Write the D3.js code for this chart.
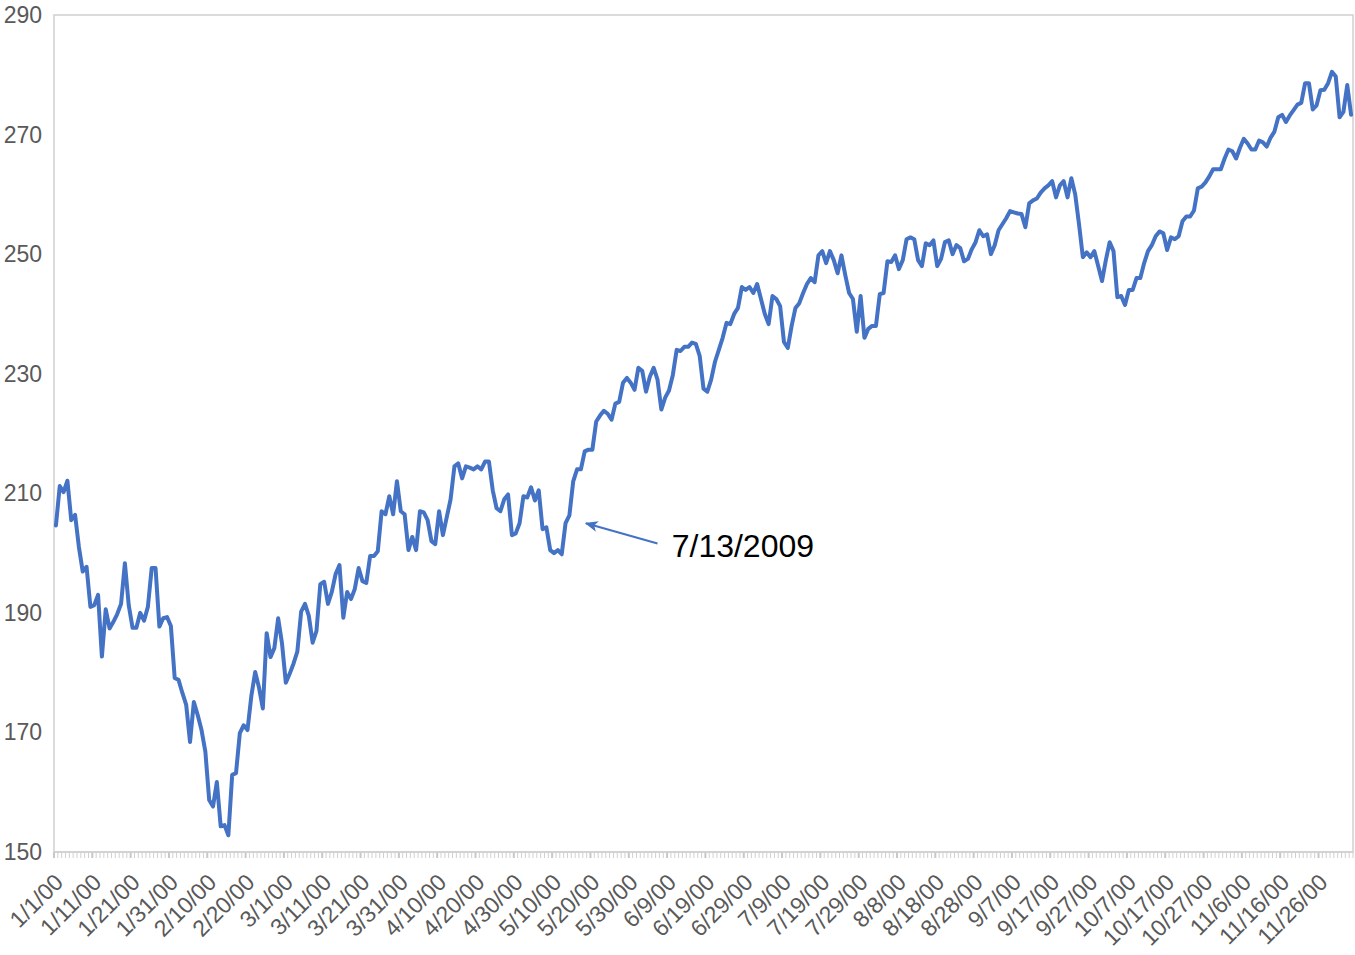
<!DOCTYPE html>
<html><head><meta charset="utf-8">
<script src="https://cdn.jsdelivr.net/npm/d3@7"></script>
<style>body{margin:0;background:#fff}svg{display:block}text{font-family:"Liberation Sans",Arial,Helvetica,sans-serif}</style>
</head><body>
<svg id="c" width="1355" height="955"></svg>
<script>
const values = [
204.6,211.2,210.2,212.1,205.5,206.4,201,196.9,197.7,191,191.3,193,182.7,190.6,187.4,188.5,189.8,191.5,198.3,191.3,187.5,187.5,190,188.7,191,197.5,197.5,187.7,189.1,189.3,187.8,179.1,178.8,176.6,174.6,168.4,175.1,172.9,170.4,166.8,158.7,157.6,161.7,154.3,154.5,152.8,
162.9,163.2,169.9,171.2,170.4,176.1,180.1,177.5,174,186.6,182.6,184.1,189.1,184.9,178.3,179.8,181.5,183.5,190.2,191.5,189.5,
185,187,194.8,195.2,191.5,193.5,196.5,198,189.2,193.5,192.3,194,197.5,195.3,195,199.5,199.5,200.3,207,206.5,
209.5,206.5,212,207,206.5,200.5,202.7,200.5,207,206.8,205.5,202,201.5,207,203,206,209,214.5,215,212.5,
214.5,214.3,214,214.5,214,215.3,215.3,210.5,207.5,207,209,209.8,203,203.3,205,209.5,209.3,211,208.8,210.5,
204,204.3,200.5,200,200.5,199.8,205,206.3,212,214,214,217,217.3,217.3,222,223,223.8,223.3,222.3,225,
225.3,228.5,229.3,228.5,227.3,231,230.5,227,229.5,231,229,224,226,227.2,229.8,234,233.8,234.5,234.5,235.2,
235,233,227.5,227,229,232,234,236,238.5,238.3,240,241,244.5,244,244.5,243.5,245,242.5,240,238.3,
243,242.5,241.3,235.3,234.3,238,241,241.8,243.5,245,246,245.3,249.8,250.5,248.5,250.5,249,246.8,249.8,246.5,
243.5,242.5,237,243,236,237.5,238,238,243.3,243.5,248.8,248.7,249.8,247.5,249,252.5,252.8,252.5,249,248,
251.8,251.5,252.3,248,249.2,252,252.3,250,251.5,251,248.8,249.2,250.8,252,254,253,253.3,250,251.5,254,
255,256,257.2,257,256.8,256.7,254.5,258.5,259,259.3,260.3,261,261.5,262.2,259.5,261.5,262.2,259.5,262.7,260,
255,249.5,250.3,249.5,250.5,248,245.5,249,252,250.5,242.8,243,241.5,244,244,246,246,248.5,250.5,251.5,253,
253.8,253.5,250.7,252.8,252.5,253,255.5,256.3,256.3,257.3,261,261.3,262,263,264.2,264.2,264.2,266,267.5,267.2,
266,267.8,269.3,268.5,267.5,267.5,269,268.7,268,269.5,270.5,
272.9,273.3,272.1,273.2,274.1,275.0,275.3,278.6,278.6,274.2,274.9,277.4,277.5,278.6,280.5,279.7,272.9,273.8,278.3,273.3
];
const tickLabels = ["1/1/00","1/11/00","1/21/00","1/31/00","2/10/00","2/20/00","3/1/00","3/11/00","3/21/00","3/31/00","4/10/00","4/20/00","4/30/00","5/10/00","5/20/00","5/30/00","6/9/00","6/19/00","6/29/00","7/9/00","7/19/00","7/29/00","8/8/00","8/18/00","8/28/00","9/7/00","9/17/00","9/27/00","10/7/00","10/17/00","10/27/00","11/6/00","11/16/00","11/26/00"];
const yTicks = [150,170,190,210,230,250,270,290];
const annotation = {label:"7/13/2009", tipIndex:139.3, tipValue:205.0, tailIndex:158.0, tailValue:201.6, textIndex:161.7, textValue:199.4};

const svg = d3.select("#c");
const L=54, R=1353, T=15, B=852;
const cats = d3.range(1, values.length+1);
const x = d3.scaleBand().domain(cats).range([L,R]).padding(0);
const bw = x.bandwidth();
const xc = i => x(i)+bw/2;
const xf = v => L + (v-0.5)*bw; // fractional index to px
const y = d3.scaleLinear().domain([150,290]).range([B,T]);

// plot area border
svg.append("rect").attr("x",L).attr("y",T).attr("width",R-L).attr("height",B-T)
  .attr("fill","none").attr("stroke","#d0d0d0").attr("stroke-width",1.5);

// x axis ticks
const g = svg.append("g");
const bounds = cats.map(i=>x(i)).concat([R]);
g.selectAll("line.minor").data(bounds).join("line")
  .attr("x1",d=>d).attr("x2",d=>d).attr("y1",B).attr("y2",B+6)
  .attr("stroke","#d0d0d0").attr("stroke-width",1);
g.selectAll("line.major").data(tickLabels.map((t,k)=>x(1+10*k))).join("line")
  .attr("class","major")
  .attr("x1",d=>d).attr("x2",d=>d).attr("y1",B).attr("y2",B+6)
  .attr("stroke","#c8c8c8").attr("stroke-width",2);
svg.append("line").attr("x1",L).attr("x2",R).attr("y1",B).attr("y2",B).attr("stroke","#d0d0d0").attr("stroke-width",1.5);

// x labels
svg.append("g").selectAll("text").data(tickLabels).join("text")
  .attr("transform",(t,k)=>`translate(${xc(1+10*k)+3},${B+26}) rotate(-45)`)
  .attr("text-anchor","end").attr("dominant-baseline","central")
  .attr("font-size",23).attr("fill","#595959").text(t=>t);

// y labels
svg.append("g").selectAll("text").data(yTicks).join("text")
  .attr("x",42).attr("y",d=>y(d)).attr("text-anchor","end").attr("dominant-baseline","central")
  .attr("font-size",23).attr("fill","#595959").text(d=>d);

// line
const line = d3.line().x((d,i)=>xc(i+1)).y(d=>y(d));
svg.append("path").datum(values).attr("d",line).attr("fill","none")
  .attr("stroke","#4472C4").attr("stroke-width",4).attr("stroke-linejoin","round").attr("stroke-linecap","round");

// annotation
const defs = svg.append("defs");
defs.append("marker").attr("id","ah").attr("viewBox","0 0 12 10").attr("refX",11).attr("refY",5)
  .attr("markerUnits","userSpaceOnUse").attr("markerWidth",13).attr("markerHeight",11).attr("orient","auto")
  .append("path").attr("d","M0,0 L12,5 L0,10 L3,5 Z").attr("fill","#4472C4");
svg.append("line").attr("x1",xf(annotation.tailIndex)).attr("y1",y(annotation.tailValue))
  .attr("x2",xf(annotation.tipIndex)).attr("y2",y(annotation.tipValue))
  .attr("stroke","#4472C4").attr("stroke-width",2).attr("marker-end","url(#ah)");
svg.append("text").attr("x",xf(annotation.textIndex)).attr("y",y(annotation.textValue))
  .attr("font-size",32).attr("fill","#000").text(annotation.label);
</script>
</body></html>
